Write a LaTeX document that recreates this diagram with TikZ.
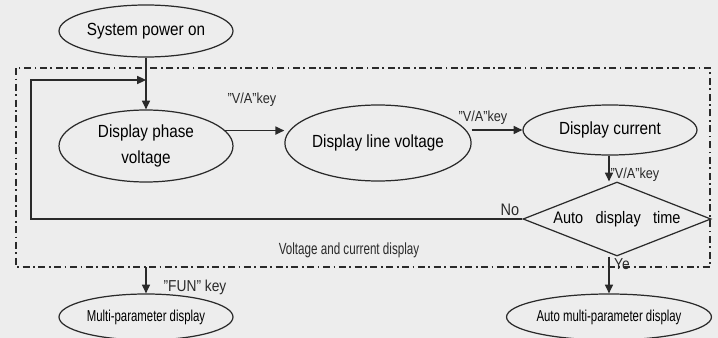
\documentclass[tikz,border=0pt]{standalone}
\usepackage{fontspec}
\setmainfont{Liberation Sans}[FakeStretch=0.87]
\newfontfamily\condfont{Liberation Sans}[FakeStretch=0.72]
\usetikzlibrary{shapes.geometric}
\usetikzlibrary{arrows.meta}

\definecolor{paper}{HTML}{EDEDED}
\definecolor{ink}{HTML}{2A2A2A}

\tikzset{
	oval/.style={ellipse, draw=ink, line width=0.7pt, inner sep=0pt, minimum width=174*0.02cm, align=center, font=\fontsize{10}{14.5}\selectfont},
	decision/.style={diamond, draw=ink, line width=0.7pt, inner sep=0pt, aspect=2.54, minimum width=188*0.02cm, minimum height=74*0.02cm, font=\fontsize{9.5}{12}\selectfont},
	flow/.style={draw=ink, line width=0.7pt, -{Triangle[length=5pt, width=4.6pt]}},
	keytext/.style={inner sep=0pt, text=ink, font=\fontsize{8.3}{9}\selectfont},
	frame/.style={draw=ink, line width=0.6pt, dash pattern=on 4pt off 2pt on 1pt off 2pt}
}

\begin{document}
\begin{tikzpicture}[x=0.02cm, y=-0.02cm]

	\fill[paper] (0,0) rectangle (718,338);
	\useasboundingbox (0,0) rectangle (718,338);

	% dash-dot frame
	\coordinate (boxnw) at (16,68);
	\coordinate (boxse) at (710,267);
	\draw[frame] (boxnw) rectangle (boxse);
	\node[keytext, font=\condfont\fontsize{9.2}{10}\selectfont] (boxlabel) at (349,250) {Voltage and current display};

	% states
	\node[oval, minimum height=52*0.02cm] (power) at (146,31) {System power on};
	\node[oval, minimum height=72*0.02cm] (phase) at (146,146) {Display phase\\voltage};
	\node[oval, minimum height=76*0.02cm] (linev) at (378,143) {Display line voltage};
	\node[oval, minimum height=50*0.02cm] (current) at (610,130) {Display current};
	\node[decision] (autotime) at (617,219) {Auto\hspace{7pt}display\hspace{7pt}time};
	\node[oval, minimum height=46*0.02cm, font=\condfont\fontsize{9}{10}\selectfont] (multi) at (146,317) {Multi-parameter display};
	\node[oval, minimum height=46*0.02cm, font=\condfont\fontsize{9}{10}\selectfont] (automulti) at (609,317) {Auto multi-parameter display};

	\coordinate (loop) at (31,80);

	% connectors
	\draw[flow] (power) -- (phase);
	\draw[flow] (phase.11) -- (phase.11 -| linev.west);
	\draw[flow] (current.west -| linev.east) -- (current.west);
	\draw[flow] (current.south -| automulti.north) -- (autotime.north -| automulti.north);
	\draw[flow] (autotime.south -| automulti.north) -- (automulti.north);
	\draw[flow] (autotime.west) -| (loop) -- (loop -| power.south);
	\draw[flow] (boxse -| multi.north) -- (multi.north);

	% key labels
	\node[keytext] (key1) at (252,100) {"V/A"key};
	\node[keytext] (key2) at (483,118) {"V/A"key};
	\node[keytext] (key3) at (635,175) {"V/A"key};
	\node[keytext, font=\fontsize{9.5}{10}\selectfont] (no) at (510,210) {No};
	\node[keytext, font=\fontsize{9}{10}\selectfont] (yes) at (622,264) {Ye};
	\node[keytext, font=\fontsize{9}{10}\selectfont] (funkey) at (195,287) {"FUN" key};

\end{tikzpicture}
\end{document}
